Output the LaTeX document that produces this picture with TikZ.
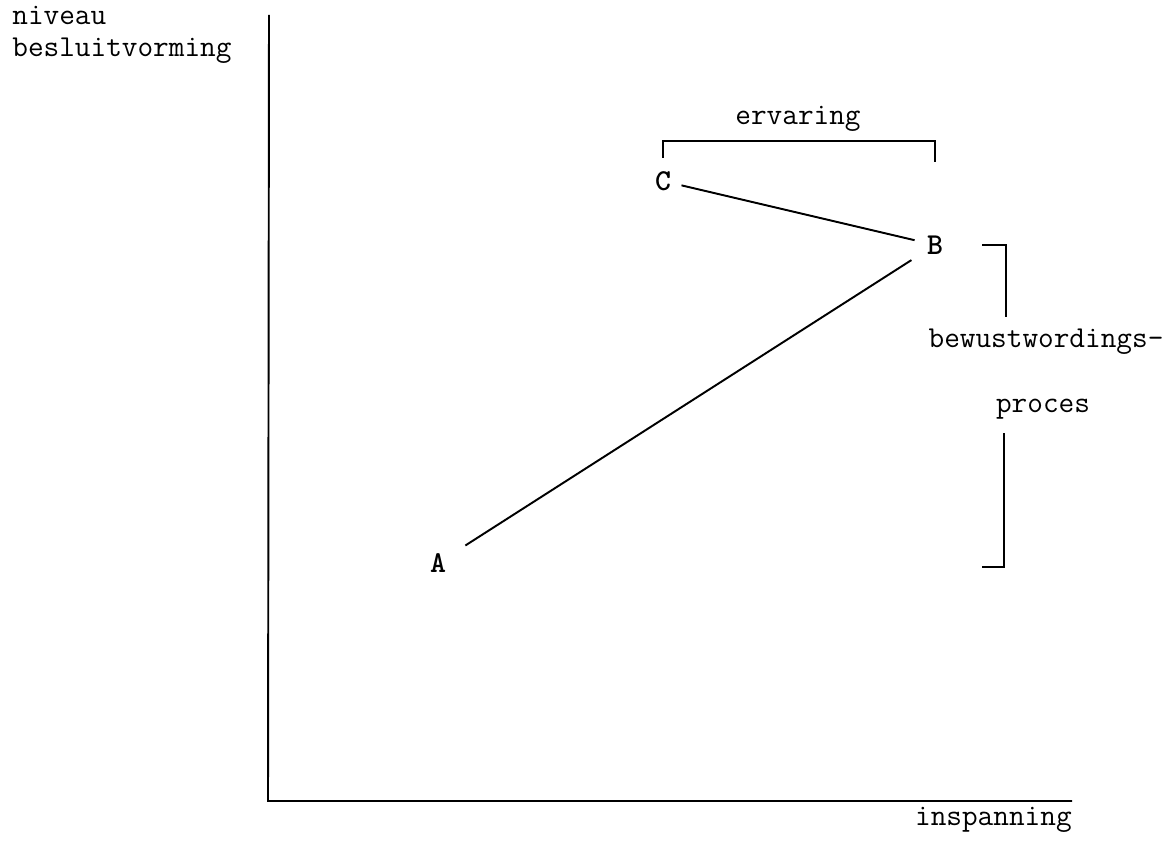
\documentclass[tikz,border=0pt]{standalone}
\usetikzlibrary{positioning}
\tikzstyle{lbl} = [inner sep=0pt, font=\fontsize{17.3}{20}\selectfont\ttfamily]
\tikzstyle{pnt} = [inner sep=0pt, font=\fontsize{17.3}{20}\selectfont\ttfamily\bfseries]
\tikzstyle{ln} = [line width=1.1pt]
\begin{document}
\begin{tikzpicture}[x=0.02cm,y=-0.02cm]
        \useasboundingbox (0,0) rectangle (1173,841);
        % axes
        \coordinate (ytop) at (269,15);
        \coordinate (O) at (268,801);
        \coordinate (xend) at (1072,801);
        \draw[ln] (ytop) -- (O) -- (xend);
        \node[lbl,anchor=base west] (niv) at (12,25) {niveau};
        \node[lbl,anchor=base west] (besl) at (12,57) {besluitvorming};
        \node[lbl,anchor=base east] (insp) at (1072,825) {inspanning};
        % points
        \foreach \N/\X/\Y in {A/438/563,B/935/245,C/663/181}
          {\node[pnt] (\N) at (\X,\Y) {\N};}
        \draw[ln,shorten <=0.65cm,shorten >=0.56cm] (A.center) -- (B.center);
        \draw[ln,shorten <=0.38cm,shorten >=0.42cm] (C.center) -- (B.center);
        % ervaring
        \node[lbl,anchor=base] (erv) at (798,125) {ervaring};
        \coordinate (e1) at (663,158);
        \coordinate (e2) at (935,162);
        \draw[ln] (e1) -- (e1 |- 0,141) -- (e2 |- 0,141) -- (e2);
        % bewustwordingsproces
        \node[lbl,anchor=base] (bew) at (1046,347) {bewustwordings-};
        \node[lbl,anchor=base] (proc) at (1043,412) {proces};
        \coordinate (b1) at (982,245);
        \coordinate (b2) at (1006,317);
        \coordinate (b3) at (1004,433);
        \coordinate (b4) at (982,567);
        \draw[ln] (b1) -- (b2 |- b1) -- (b2);
        \draw[ln] (b3) -- (b3 |- b4) -- (b4);
\end{tikzpicture}
\end{document}
